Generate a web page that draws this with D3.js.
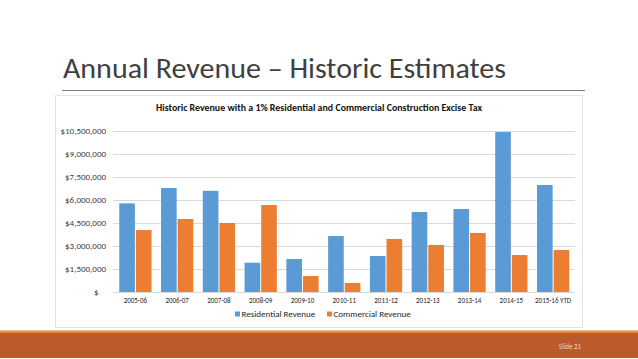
<!DOCTYPE html>
<html>
<head>
<meta charset="utf-8">
<script src="https://cdn.jsdelivr.net/npm/d3@7"></script>
<style>
  body { margin: 0; background: #fff; }
  svg { display: block; font-family: Calibri, Carlito, "Open Sans", sans-serif; }
</style>
</head>
<body>
<div id="chart"></div>
<script>
// fiscal years
const years = ["2005-06", "2006-07", "2007-08", "2008-09", "2009-10", "2010-11",
  "2011-12", "2012-13", "2013-14", "2014-15", "2015-16 YTD"];
// revenue (dollars)
const residential = [5780000, 6780000, 6600000, 1910000, 2150000, 3650000,
  2350000, 5220000, 5410000, 10430000, 6980000];
const commercial = [4040000, 4760000, 4500000, 5670000, 1040000, 590000,
  3460000, 3070000, 3850000, 2410000, 2740000];
const seriesNames = ["Residential Revenue", "Commercial Revenue"];
const seriesColors = ["#5B9BD5", "#ED7D31"];
const yTicks = [0, 1500000, 3000000, 4500000, 6000000, 7500000, 9000000, 10500000];

const W = 638, H = 359;
const svg = d3.select("#chart").append("svg")
  .attr("width", W).attr("height", H);

// slide title
svg.append("text")
  .attr("x", 63).attr("y", 78)
  .attr("textLength", 443).attr("lengthAdjust", "spacingAndGlyphs")
  .style("font-size", "28px").style("fill", "#404040")
  .text("Annual Revenue \u2013 Historic Estimates");

svg.append("line")
  .attr("x1", 62).attr("x2", 585).attr("y1", 90.5).attr("y2", 90.5)
  .style("stroke", "#7f7f7f").style("stroke-width", 1);

// chart frame
svg.append("rect")
  .attr("x", 55.5).attr("y", 95.5).attr("width", 527).attr("height", 232)
  .style("fill", "none").style("stroke", "#e3e3e3");

svg.append("text")
  .attr("x", 156).attr("y", 111)
  .attr("textLength", 326).attr("lengthAdjust", "spacingAndGlyphs")
  .style("font-size", "9.5px").style("font-weight", "bold").style("fill", "#111")
  .text("Historic Revenue with a 1% Residential and Commercial Construction Excise Tax");

// scales
const x0 = d3.scaleBand().domain(years).range([114.5, 574])
  .paddingInner(0.18).paddingOuter(0.09);
const x1 = d3.scaleBand().domain([0, 1]).range([0, x0.bandwidth()]).padding(0.06);
const y = d3.scaleLinear().domain([0, 10500000]).range([292, 131]);

// gridlines
svg.append("g").selectAll("line")
  .data(yTicks)
  .join("line")
  .attr("x1", 113).attr("x2", 575)
  .attr("y1", d => Math.round(y(d)) + 0.5).attr("y2", d => Math.round(y(d)) + 0.5)
  .style("stroke", "#d9d9d9");

const fmt = d3.format(",");
svg.append("g").selectAll("text")
  .data(yTicks)
  .join("text")
  .attr("x", d => d === 0 ? 98.5 : 106)
  .attr("y", d => y(d) + 3)
  .attr("text-anchor", "end")
  .style("font-size", "9px").style("fill", "#404040")
  .text(d => d === 0 ? "$" : "$" + fmt(d));

// bars
const groups = svg.append("g").selectAll("g")
  .data(years.map((yr, i) => ({ yr, vals: [residential[i], commercial[i]] })))
  .join("g")
  .attr("transform", d => `translate(${x0(d.yr)},0)`);

groups.selectAll("rect")
  .data(d => d.vals.map((v, k) => ({ v, k })))
  .join("rect")
  .attr("x", d => x1(d.k))
  .attr("width", x1.bandwidth())
  .attr("y", d => y(d.v))
  .attr("height", d => y(0) - y(d.v))
  .attr("fill", d => seriesColors[d.k]);

// x labels
svg.append("g").selectAll("text")
  .data(years)
  .join("text")
  .attr("x", d => x0(d) + x0.bandwidth() / 2)
  .attr("y", 302.5)
  .attr("text-anchor", "middle")
  .style("font-size", "7px").style("fill", "#262626")
  .text(d => d);

// legend
const legendX = [235, 327];
const legend = svg.append("g").selectAll("g")
  .data(seriesNames)
  .join("g")
  .attr("transform", (d, i) => `translate(${legendX[i]},316)`);
legend.append("rect")
  .attr("x", 0).attr("y", -4.5).attr("width", 5).attr("height", 5)
  .attr("fill", (d, i) => seriesColors[i]);
legend.append("text")
  .attr("x", 6.5).attr("y", 1)
  .style("font-size", "9px").style("fill", "#262626")
  .text(d => d);

// footer band
svg.append("rect")
  .attr("x", 0).attr("y", 330.5).attr("width", W).attr("height", 3)
  .attr("fill", "#E98B2E");
svg.append("rect")
  .attr("x", 0).attr("y", 333).attr("width", W).attr("height", 25)
  .attr("fill", "#BC5A2C");
svg.append("text")
  .attr("x", 570).attr("y", 349)
  .attr("text-anchor", "middle")
  .style("font-size", "7px").style("fill", "#f3d2c0")
  .text("Slide 21");
</script>
</body>
</html>
